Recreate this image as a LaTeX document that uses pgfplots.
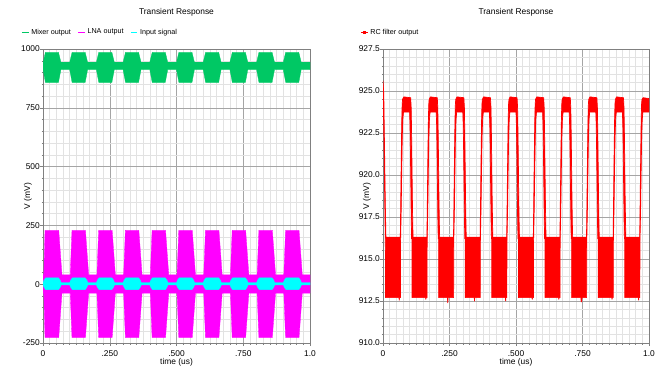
\documentclass[border=0pt]{standalone}
\usepackage{fontspec}
\setmainfont{Liberation Sans}
\usepackage{pgfplots}
\pgfplotsset{compat=1.18}
\definecolor{mixgreen}{RGB}{0,200,100}
\definecolor{lnamag}{RGB}{255,0,255}
\definecolor{incyan}{RGB}{0,255,255}
\definecolor{rcred}{RGB}{255,0,0}
\definecolor{majgrid}{RGB}{165,165,165}
\definecolor{mingrid}{RGB}{226,226,226}
\definecolor{axisgray}{RGB}{128,128,128}
\newcommand{\fs}{\fontsize{8.4}{10}\selectfont}
\newcommand{\fl}{\fontsize{7.2}{8.5}\selectfont}
\pgfplotsset{
  every axis title/.style={at={(axis description cs:0.5,1.1173)}, anchor=base, font=\fs},
  tr/.style={
    scale only axis, height=294pt, anchor=south west,
    xmin=0, xmax=1,
    xtick={0,0.25,0.5,0.75,1}, xticklabels={0,.250,.500,.750,1.0},
    minor x tick num=9, minor y tick num=4,
    grid=both,
    major grid style={draw=majgrid, line width=0.5pt},
    minor grid style={draw=mingrid, line width=0.5pt},
    axis line style={draw=axisgray, line width=0.6pt},
    tick align=outside, tick pos=left,
    major tick length=3pt, minor tick length=1.5pt,
    every tick/.style={draw=axisgray, line width=0.5pt},
    tick label style={font=\fs, text=black},
    xticklabel style={anchor=base, inner sep=0pt, yshift=-10pt},
    yticklabel style={anchor=east, inner sep=0pt},
    label style={font=\fs},
    title={Transient Response},
    xlabel={time (us)}, ylabel={V (mV)},
    xlabel style={at={(axis description cs:0.5,-0.0735)}, anchor=base},
    legend columns=-1,
    legend image code/.code={\draw[mark repeat=2,mark phase=2,##1] plot coordinates {(0pt,0pt) (3.3pt,0pt) (6.6pt,0pt)};},
    legend style={draw=none, fill=none, font=\fl, inner sep=0pt, outer sep=0pt,
      anchor=west, nodes={inner sep=1pt},
      /tikz/every odd column/.append style={column sep=1.5pt},
      /tikz/every even column/.append style={column sep=6pt}},
  }
}
\begin{document}
\begin{tikzpicture}
\path[use as bounding box] (0,0) rectangle (663pt,365pt);
% ---------------- left axis ----------------
\begin{axis}[tr, width=267pt, at={(43pt,22pt)},
  ymin=-250, ymax=1000,
  ytick={-250,0,250,500,750,1000}, yticklabels={-250,0,250,500,750,1000},
  ylabel style={at={(axis description cs:-0.056,0.5)}, anchor=center},
  legend style={at={(axis description cs:-0.0798,1.0570)}},
]
\addlegendimage{mixgreen, line width=0.5pt}
\addlegendentry{Mixer output}
\addlegendimage{lnamag, line width=0.5pt}
\addlegendentry{LNA output}
\addlegendimage{incyan, line width=0.5pt}
\addlegendentry{Input signal}
% Mixer output envelope
\addplot[fill=mixgreen, draw=mixgreen, line width=0.3pt, forget plot] coordinates {
(0,940) (0.009,986) (0.058,986) (0.067,944)
(0.100,944) (0.109,986) (0.158,986) (0.167,944)
(0.200,944) (0.209,986) (0.258,986) (0.267,944)
(0.300,944) (0.309,986) (0.358,986) (0.367,944)
(0.400,944) (0.409,986) (0.458,986) (0.467,944)
(0.500,944) (0.509,986) (0.558,986) (0.567,944)
(0.600,944) (0.609,986) (0.658,986) (0.667,944)
(0.700,944) (0.709,986) (0.758,986) (0.767,944)
(0.800,944) (0.809,986) (0.858,986) (0.867,944)
(0.900,944) (0.909,986) (0.958,986) (0.967,944) (1.0,944)
(1.0,912) (0.967,912) (0.958,858) (0.909,858) (0.900,912)
(0.867,912) (0.858,858) (0.809,858) (0.800,912)
(0.767,912) (0.758,858) (0.709,858) (0.700,912)
(0.667,912) (0.658,858) (0.609,858) (0.600,912)
(0.567,912) (0.558,858) (0.509,858) (0.500,912)
(0.467,912) (0.458,858) (0.409,858) (0.400,912)
(0.367,912) (0.358,858) (0.309,858) (0.300,912)
(0.267,912) (0.258,858) (0.209,858) (0.200,912)
(0.167,912) (0.158,858) (0.109,858) (0.100,912)
(0.067,912) (0.058,858) (0.009,858) (0,914)
} -- cycle;
% LNA output envelope
\addplot[fill=lnamag, draw=lnamag, line width=0.3pt, forget plot] coordinates {
(0,40) (0.003,40) (0.0075,229) (0.059,229) (0.071,40)
(0.102,40) (0.1085,229) (0.159,229) (0.171,40)
(0.202,40) (0.2085,229) (0.259,229) (0.271,40)
(0.302,40) (0.3085,229) (0.359,229) (0.371,40)
(0.402,40) (0.4085,229) (0.459,229) (0.471,40)
(0.502,40) (0.5085,229) (0.559,229) (0.571,40)
(0.602,40) (0.6085,229) (0.659,229) (0.671,40)
(0.702,40) (0.7085,229) (0.759,229) (0.771,40)
(0.802,40) (0.8085,229) (0.859,229) (0.871,40)
(0.902,40) (0.9085,229) (0.959,229) (0.971,40) (1.0,40)
(1.0,-38) (0.971,-38) (0.959,-227) (0.9085,-227) (0.902,-38)
(0.871,-38) (0.859,-227) (0.8085,-227) (0.802,-38)
(0.771,-38) (0.759,-227) (0.7085,-227) (0.702,-38)
(0.671,-38) (0.659,-227) (0.6085,-227) (0.602,-38)
(0.571,-38) (0.559,-227) (0.5085,-227) (0.502,-38)
(0.471,-38) (0.459,-227) (0.4085,-227) (0.402,-38)
(0.371,-38) (0.359,-227) (0.3085,-227) (0.302,-38)
(0.271,-38) (0.259,-227) (0.2085,-227) (0.202,-38)
(0.171,-38) (0.159,-227) (0.1085,-227) (0.102,-38)
(0.071,-38) (0.059,-227) (0.0075,-227) (0.003,-38) (0,-38)
} -- cycle;
% Input signal envelope
\addplot[fill=incyan, draw=incyan, line width=0.3pt, forget plot] coordinates {
(0,7) (0.004,18) (0.010,27) (0.058,27) (0.064,18) (0.068,7)
(0.100,7) (0.104,18) (0.110,27) (0.158,27) (0.164,18) (0.168,7)
(0.200,7) (0.204,18) (0.210,27) (0.258,27) (0.264,18) (0.268,7)
(0.300,7) (0.304,18) (0.310,27) (0.358,27) (0.364,18) (0.368,7)
(0.400,7) (0.404,18) (0.410,27) (0.458,27) (0.464,18) (0.468,7)
(0.500,7) (0.504,18) (0.510,27) (0.558,27) (0.564,18) (0.568,7)
(0.600,7) (0.604,18) (0.610,27) (0.658,27) (0.664,18) (0.668,7)
(0.700,7) (0.704,18) (0.710,27) (0.758,27) (0.764,18) (0.768,7)
(0.800,7) (0.804,18) (0.810,27) (0.858,27) (0.864,18) (0.868,7)
(0.900,7) (0.904,18) (0.910,27) (0.958,27) (0.964,18) (0.968,7) (1.0,7)
(1.0,-3) (0.968,-3) (0.964,-14) (0.958,-23) (0.910,-23) (0.904,-14) (0.900,-3)
(0.868,-3) (0.864,-14) (0.858,-23) (0.810,-23) (0.804,-14) (0.800,-3)
(0.768,-3) (0.764,-14) (0.758,-23) (0.710,-23) (0.704,-14) (0.700,-3)
(0.668,-3) (0.664,-14) (0.658,-23) (0.610,-23) (0.604,-14) (0.600,-3)
(0.568,-3) (0.564,-14) (0.558,-23) (0.510,-23) (0.504,-14) (0.500,-3)
(0.468,-3) (0.464,-14) (0.458,-23) (0.410,-23) (0.404,-14) (0.400,-3)
(0.368,-3) (0.364,-14) (0.358,-23) (0.310,-23) (0.304,-14) (0.300,-3)
(0.268,-3) (0.264,-14) (0.258,-23) (0.210,-23) (0.204,-14) (0.200,-3)
(0.168,-3) (0.164,-14) (0.158,-23) (0.110,-23) (0.104,-14) (0.100,-3)
(0.068,-3) (0.064,-14) (0.058,-23) (0.010,-23) (0.004,-14) (0,-3)
} -- cycle;
\end{axis}
% ---------------- right axis ----------------
\begin{axis}[tr, width=266pt, at={(383pt,22pt)},
  ymin=910, ymax=927.5,
  ytick={910,912.5,915,917.5,920,922.5,925,927.5},
  yticklabels={910.0,912.5,915.0,917.5,920.0,922.5,925.0,927.5},
  ylabel style={at={(axis description cs:-0.060,0.5)}, anchor=center},
  legend style={at={(axis description cs:-0.0838,1.0570)}},
]
\addlegendimage{rcred, line width=0.5pt, mark=square*, mark size=0.9pt}
\addlegendentry{RC filter output}
\pgfplotsset{rcpoly/.style={fill=rcred, draw=rcred, line width=0.7pt, line join=round, forget plot}}
% period 0
\addplot[rcpoly] coordinates {
(0,925.6) (0.003,924.8) (0.005,922.5) (0.007,920.2) (0.009,918) (0.011,916.3)
(0.065,916.3) (0.066,917.5) (0.0675,919.5) (0.069,921.5) (0.0705,923.2) (0.072,924.2) (0.0735,924.5) (0.078,924.65) (0.104,924.6)
(0.106,924.0) (0.1075,922.5) (0.109,920.5) (0.1105,918.5) (0.112,917.0) (0.113,916.3)
(0.1075,916.2) (0.106,917.5) (0.1045,919.5) (0.103,921.5) (0.1015,923.0) (0.100,923.75)
(0.077,923.75) (0.0745,923.3) (0.0725,922.3) (0.0705,920.3) (0.0685,918.0) (0.066,916.0) (0.0655,912.7)
(0.062,912.7) (0.061,912.55) (0.060,912.7) (0.0095,912.7)
(0.009,915.5) (0.008,916.8) (0.006,919.0) (0.004,921.5) (0.002,923.5) (0,924.5)
} -- cycle;
% period 1
\addplot[rcpoly] coordinates {
(0.109,916.3) (0.165,916.3) (0.166,917.5) (0.1675,919.5) (0.169,921.5) (0.1705,923.2) (0.172,924.2) (0.1735,924.5) (0.178,924.65) (0.204,924.6)
(0.206,924.0) (0.2075,922.5) (0.209,920.5) (0.2105,918.5) (0.212,917.0) (0.213,916.3)
(0.2075,916.2) (0.206,917.5) (0.2045,919.5) (0.203,921.5) (0.2015,923.0) (0.200,923.75)
(0.177,923.75) (0.1745,923.3) (0.1725,922.3) (0.1705,920.3) (0.1685,918.0) (0.166,916.0) (0.1655,912.7)
(0.162,912.7) (0.161,912.6) (0.160,912.7) (0.109,912.7)
} -- cycle;
% period 2
\addplot[rcpoly] coordinates {
(0.209,916.3) (0.265,916.3) (0.266,917.5) (0.2675,919.5) (0.269,921.5) (0.2705,923.2) (0.272,924.2) (0.2735,924.5) (0.278,924.65) (0.304,924.6)
(0.306,924.0) (0.3075,922.5) (0.309,920.5) (0.3105,918.5) (0.312,917.0) (0.313,916.3)
(0.3075,916.2) (0.306,917.5) (0.3045,919.5) (0.303,921.5) (0.3015,923.0) (0.300,923.75)
(0.277,923.75) (0.2745,923.3) (0.2725,922.3) (0.2705,920.3) (0.2685,918.0) (0.266,916.0) (0.2655,912.7)
(0.245,912.7) (0.2435,912.4) (0.242,912.7) (0.209,912.7)
} -- cycle;
% period 3
\addplot[rcpoly] coordinates {
(0.309,916.3) (0.365,916.3) (0.366,917.5) (0.3675,919.5) (0.369,921.5) (0.3705,923.2) (0.372,924.2) (0.3735,924.5) (0.378,924.65) (0.404,924.6)
(0.406,924.0) (0.4075,922.5) (0.409,920.5) (0.4105,918.5) (0.412,917.0) (0.413,916.3)
(0.4075,916.2) (0.406,917.5) (0.4045,919.5) (0.403,921.5) (0.4015,923.0) (0.400,923.75)
(0.377,923.75) (0.3745,923.3) (0.3725,922.3) (0.3705,920.3) (0.3685,918.0) (0.366,916.0) (0.3655,912.7)
(0.345,912.7) (0.344,912.5) (0.343,912.7) (0.309,912.7)
} -- cycle;
% period 4
\addplot[rcpoly] coordinates {
(0.409,916.3) (0.465,916.3) (0.466,917.5) (0.4675,919.5) (0.469,921.5) (0.4705,923.2) (0.472,924.2) (0.4735,924.5) (0.478,924.65) (0.504,924.6)
(0.506,924.0) (0.5075,922.5) (0.509,920.5) (0.5105,918.5) (0.512,917.0) (0.513,916.3)
(0.5075,916.2) (0.506,917.5) (0.5045,919.5) (0.503,921.5) (0.5015,923.0) (0.500,923.75)
(0.477,923.75) (0.4745,923.3) (0.4725,922.3) (0.4705,920.3) (0.4685,918.0) (0.466,916.0) (0.4655,912.7)
(0.462,912.7) (0.461,912.5) (0.460,912.7) (0.409,912.7)
} -- cycle;
% period 5
\addplot[rcpoly] coordinates {
(0.509,916.3) (0.565,916.3) (0.566,917.5) (0.5675,919.5) (0.569,921.5) (0.5705,923.2) (0.572,924.2) (0.5735,924.5) (0.578,924.65) (0.604,924.6)
(0.606,924.0) (0.6075,922.5) (0.609,920.5) (0.6105,918.5) (0.612,917.0) (0.613,916.3)
(0.6075,916.2) (0.606,917.5) (0.6045,919.5) (0.603,921.5) (0.6015,923.0) (0.600,923.75)
(0.577,923.75) (0.5745,923.3) (0.5725,922.3) (0.5705,920.3) (0.5685,918.0) (0.566,916.0) (0.5655,912.7)
(0.562,912.7) (0.561,912.6) (0.560,912.7) (0.509,912.7)
} -- cycle;
% period 6
\addplot[rcpoly] coordinates {
(0.609,916.3) (0.665,916.3) (0.666,917.5) (0.6675,919.5) (0.669,921.5) (0.6705,923.2) (0.672,924.2) (0.6735,924.5) (0.678,924.65) (0.704,924.6)
(0.706,924.0) (0.7075,922.5) (0.709,920.5) (0.7105,918.5) (0.712,917.0) (0.713,916.3)
(0.7075,916.2) (0.706,917.5) (0.7045,919.5) (0.703,921.5) (0.7015,923.0) (0.700,923.75)
(0.677,923.75) (0.6745,923.3) (0.6725,922.3) (0.6705,920.3) (0.6685,918.0) (0.666,916.0) (0.6655,912.7)
(0.662,912.7) (0.661,912.6) (0.660,912.7) (0.609,912.7)
} -- cycle;
% period 7
\addplot[rcpoly] coordinates {
(0.709,916.3) (0.765,916.3) (0.766,917.5) (0.7675,919.5) (0.769,921.5) (0.7705,923.2) (0.772,924.2) (0.7735,924.5) (0.778,924.65) (0.804,924.6)
(0.806,924.0) (0.8075,922.5) (0.809,920.5) (0.8105,918.5) (0.812,917.0) (0.813,916.3)
(0.8075,916.2) (0.806,917.5) (0.8045,919.5) (0.803,921.5) (0.8015,923.0) (0.800,923.75)
(0.777,923.75) (0.7745,923.3) (0.7725,922.3) (0.7705,920.3) (0.7685,918.0) (0.766,916.0) (0.7655,912.7)
(0.748,912.7) (0.747,912.45) (0.745,912.45) (0.744,912.7) (0.709,912.7)
} -- cycle;
% period 8
\addplot[rcpoly] coordinates {
(0.809,916.3) (0.865,916.3) (0.866,917.5) (0.8675,919.5) (0.869,921.5) (0.8705,923.2) (0.872,924.2) (0.8735,924.5) (0.878,924.65) (0.904,924.6)
(0.906,924.0) (0.9075,922.5) (0.909,920.5) (0.9105,918.5) (0.912,917.0) (0.913,916.3)
(0.9075,916.2) (0.906,917.5) (0.9045,919.5) (0.903,921.5) (0.9015,923.0) (0.900,923.75)
(0.877,923.75) (0.8745,923.3) (0.8725,922.3) (0.8705,920.3) (0.8685,918.0) (0.866,916.0) (0.8655,912.7)
(0.862,912.7) (0.861,912.6) (0.860,912.7) (0.809,912.7)
} -- cycle;
% period 9
\addplot[rcpoly] coordinates {
(0.909,916.3) (0.965,916.3) (0.966,917.5) (0.9675,919.5) (0.969,921.5) (0.9705,923.2) (0.972,924.2) (0.9735,924.5) (0.978,924.6) (1.0,924.55)
(1.0,923.75) (0.977,923.75) (0.9745,923.3) (0.9725,922.3) (0.9705,920.3) (0.9685,918.0) (0.966,916.0) (0.9655,912.7)
(0.962,912.7) (0.961,912.55) (0.960,912.7) (0.909,912.7)
} -- cycle;
\end{axis}
\end{tikzpicture}
\end{document}
